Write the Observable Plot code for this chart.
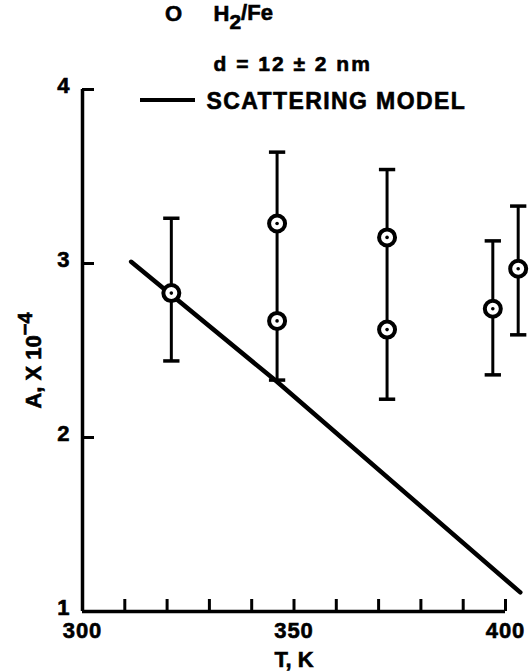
<!DOCTYPE html>
<html><head><meta charset="utf-8">
<script src="https://cdn.jsdelivr.net/npm/d3@7"></script>
<script src="https://cdn.jsdelivr.net/npm/@observablehq/plot@0.6"></script>
<style>
body{margin:0;background:#fff;}
#chart svg text{font-family:"Liberation Sans",Arial,sans-serif;font-weight:bold;stroke:black;stroke-width:0.6px;}
</style>
</head><body><div id="chart"></div>
<script>
// Measured points (T in K, A x 10^-4)
const pointT = [321, 346, 346, 372, 372, 397, 403];
const pointA = [2.83, 3.23, 2.67, 3.15, 2.62, 2.74, 2.97];
// Error bars
const barT = [321, 346, 372, 397, 403];
const barLow = [2.44, 2.33, 2.22, 2.36, 2.59];
const barHigh = [3.26, 3.64, 3.54, 3.13, 3.33];
// Scattering model curve
const modelT = [311.5, 346, 403.5];
const modelA = [3.01, 2.32, 1.11];
// Axes
const xTicks = [300, 310, 320, 330, 340, 350, 360, 370, 380, 390, 400];
const xTickLabels = [300, 350, 400];
const yTicks = [2, 3, 4];
const yTickLabels = [1, 2, 3, 4];
const xTitle = "T, K";
const yTitle = "A, X 10−4";
const legendSymbol = "O";
const legendSeries = "H2/Fe";
const legendSize = "d = 12 ± 2 nm";
const legendModel = "SCATTERING MODEL";

const W = 531, H = 671;
const mL = 82, mR = 26, mT = 89, mB = 60;
const plotW = W - mL - mR, plotH = H - mT - mB;
const tickLen = 12;
const yPerPx = 3 / plotH, xPerPx = 100 / plotW;

const points = pointT.map((t, i) => ({T: t, A: pointA[i]}));
const bars = barT.map((t, i) => ({T: t, lo: barLow[i], hi: barHigh[i]}));
const caps = bars.flatMap(b => [{T: b.T, A: b.lo}, {T: b.T, A: b.hi}]);
const model = modelT.map((t, i) => ({T: t, A: modelA[i]}));

const capSymbol = {draw(ctx, size) { const w = Math.sqrt(size); ctx.moveTo(-w, 0); ctx.lineTo(w, 0); }};

const legendLine = (index, scales, values, dim) => {
  const g = d3.create("svg:g");
  g.append("line")
    .attr("x1", dim.marginLeft + 58).attr("x2", dim.marginLeft + 113)
    .attr("y1", dim.marginTop + 11).attr("y2", dim.marginTop + 11)
    .attr("stroke", "black").attr("stroke-width", 4);
  return g.node();
};

const plot = Plot.plot({
  width: W, height: H,
  marginLeft: mL, marginRight: mR, marginTop: mT, marginBottom: mB,
  style: {fontSize: "22px", fontFamily: "Liberation Sans, Arial, sans-serif", fontWeight: "bold", background: "white", color: "black", overflow: "visible"},
  x: {domain: [300, 400]},
  y: {domain: [1, 4]},
  marks: [
    Plot.ruleY([1], {x1: 300, x2: 400, strokeWidth: 3.5}),
    Plot.ruleX([300], {y1: 1, y2: 4, strokeWidth: 3.5}),
    Plot.ruleX(xTicks.slice(1), {x: d => d, y1: 1, y2: 1 + tickLen * yPerPx, strokeWidth: 3}),
    Plot.ruleY(yTicks, {y: d => d, x1: 300, x2: 300 + tickLen * xPerPx, strokeWidth: 3}),
    Plot.axisX({ticks: xTickLabels, tickSize: 0, tickPadding: 11, label: null, tickFormat: "d", fontSize: 22, fontWeight: "bold"}),
    Plot.axisY({ticks: yTickLabels, tickSize: 0, tickPadding: 12, dy: -4, label: null, tickFormat: "d", fontSize: 22, fontWeight: "bold"}),
    Plot.text([xTitle], {frameAnchor: "bottom", dx: 0, dy: 48, fontSize: 22, fontWeight: "bold", lineAnchor: "middle"}),
    Plot.text([yTitle], {frameAnchor: "left", dx: -49, dy: 10, rotate: -90, fontSize: 22, fontWeight: "bold", lineAnchor: "middle", textAnchor: "middle"}),
    Plot.ruleX(bars, {x: "T", y1: "lo", y2: "hi", strokeWidth: 3}),
    Plot.dot(caps, {x: "T", y: "A", symbol: capSymbol, r: 4.6, stroke: "black", strokeWidth: 3.5, fill: "none"}),
    Plot.line(model, {x: "T", y: "A", strokeWidth: 4.5, stroke: "black"}),
    Plot.dot(points, {x: "T", y: "A", r: 8, fill: "white", stroke: "black", strokeWidth: 4}),
    Plot.dot(points, {x: "T", y: "A", r: 1.8, fill: "black"}),
    Plot.text([legendSymbol], {frameAnchor: "top-left", dx: 91, dy: -76, fontSize: 22, fontWeight: "bold", textAnchor: "middle", lineAnchor: "middle"}),
    Plot.text([legendSeries], {frameAnchor: "top-left", dx: 131, dy: -76, fontSize: 22, fontWeight: "bold", textAnchor: "start", lineAnchor: "middle"}),
    Plot.text([legendSize], {frameAnchor: "top-left", dx: 131, dy: -25, fontSize: 21, fontWeight: "bold", textAnchor: "start", lineAnchor: "middle"}),
    Plot.text([legendModel], {frameAnchor: "top-left", dx: 124, dy: 12.5, fontSize: 23, fontWeight: "bold", textAnchor: "start", lineAnchor: "middle"}),
    legendLine
  ]
});

// rich text: subscript and superscript
d3.select(plot).selectAll("text").each(function() {
  const t = d3.select(this);
  const s = this.textContent;
  if (s === legendSeries) {
    t.text(null);
    t.append("tspan").text("H");
    t.append("tspan").attr("dy", "0.4em").attr("font-size", "21px").text("2");
    t.append("tspan").attr("dy", "-0.4em").text("/Fe");
  } else if (s === yTitle) {
    t.text(null);
    t.append("tspan").text("A, X 10");
    t.append("tspan").attr("dy", "-0.45em").attr("font-size", "20px").text("−4");
  } else if (s === legendSize) {
    t.attr("letter-spacing", "2px");
  } else if (s === legendModel) {
    t.attr("letter-spacing", "1.4px");
  }
});
d3.select(plot).selectAll("[aria-label='x-axis tick label'] text, [aria-label='y-axis tick label'] text").attr("letter-spacing", "1px");

document.getElementById("chart").appendChild(plot);
</script>
</body></html>
